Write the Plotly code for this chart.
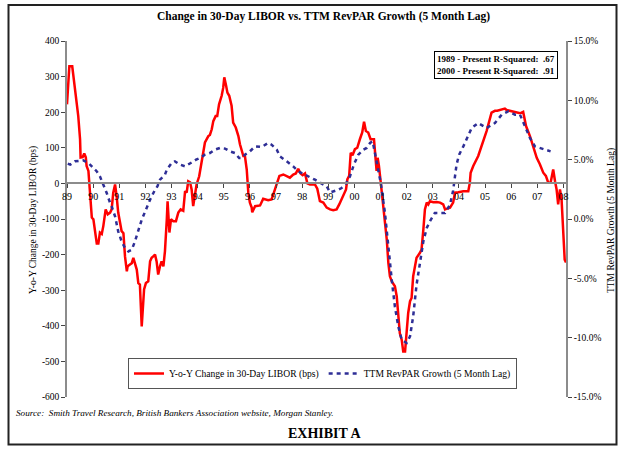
import plotly.graph_objects as go

# ---------------- data ----------------
libor_t = [1989.00, 1989.09, 1989.20, 1989.31, 1989.37, 1989.43, 1989.50, 1989.52, 1989.60, 1989.66,
           1989.72, 1989.75, 1989.82, 1989.85, 1989.88, 1989.95, 1990.01, 1990.07, 1990.14, 1990.20,
           1990.26, 1990.33, 1990.39, 1990.48, 1990.56, 1990.65, 1990.71, 1990.77, 1990.84, 1990.90,
           1990.96, 1991.03, 1991.09, 1991.16, 1991.22, 1991.29, 1991.32, 1991.41, 1991.48, 1991.54,
           1991.60, 1991.67, 1991.73, 1991.79, 1991.86, 1991.90, 1991.95, 1992.02, 1992.11, 1992.18,
           1992.24, 1992.30, 1992.37, 1992.43, 1992.49, 1992.56, 1992.62, 1992.69, 1992.75, 1992.82,
           1992.85, 1992.92, 1992.98, 1993.07, 1993.17, 1993.26, 1993.35, 1993.45, 1993.52, 1993.58,
           1993.64, 1993.71, 1993.77, 1993.83, 1993.90, 1993.96, 1994.06, 1994.16, 1994.22, 1994.28,
           1994.41, 1994.47, 1994.54, 1994.60, 1994.69, 1994.75, 1994.82, 1994.92, 1994.98, 1995.02,
           1995.09, 1995.14, 1995.21, 1995.30, 1995.36, 1995.46, 1995.56, 1995.62, 1995.75, 1995.81,
           1995.88, 1995.94, 1996.00, 1996.07, 1996.09, 1996.20, 1996.39, 1996.51, 1996.70, 1996.83,
           1996.96, 1997.13, 1997.28, 1997.41, 1997.53, 1997.66, 1997.76, 1997.85, 1997.94, 1998.02,
           1998.11, 1998.20, 1998.30, 1998.49, 1998.58, 1998.68, 1998.81, 1998.94, 1999.07, 1999.19,
           1999.32, 1999.42, 1999.55, 1999.68, 1999.73, 1999.80, 1999.86, 1999.93, 2000.02, 2000.11,
           2000.21, 2000.30, 2000.37, 2000.44, 2000.53, 2000.62, 2000.75, 2000.80, 2000.85, 2000.89,
           2000.94, 2001.01, 2001.08, 2001.11, 2001.17, 2001.24, 2001.30, 2001.36, 2001.43, 2001.55,
           2001.62, 2001.68, 2001.74, 2001.81, 2001.87, 2001.94, 2002.00, 2002.06, 2002.13, 2002.19,
           2002.25, 2002.32, 2002.38, 2002.51, 2002.57, 2002.64, 2002.70, 2002.77, 2002.83, 2002.89,
           2003.02, 2003.15, 2003.28, 2003.40, 2003.47, 2003.55, 2003.66, 2003.78, 2003.85, 2003.98,
           2004.17, 2004.36, 2004.42, 2004.45, 2004.55, 2004.74, 2004.93, 2005.06, 2005.25, 2005.38,
           2005.47, 2005.64, 2005.76, 2005.83, 2005.95, 2006.15, 2006.34, 2006.46, 2006.57, 2006.72,
           2006.85, 2006.98, 2007.10, 2007.23, 2007.33, 2007.42, 2007.51, 2007.61, 2007.68, 2007.74,
           2007.80, 2007.87, 2007.93, 2007.99, 2008.05, 2008.10]
libor_bps = [222, 329, 329, 265, 237, 190, 124, 73, 74, 84,
             73, 49, 35, 0, -36, -96, -101, -138, -169, -169,
             -138, -142, -120, -73, -87, -82, -73, -26, -3, -36,
             -82, -110, -134, -140, -205, -247, -233, -228, -224, -209,
             -224, -242, -280, -284, -402, -355, -298, -280, -275, -219,
             -209, -205, -200, -219, -256, -233, -219, -233, -190, -101,
             -50, -138, -101, -106, -106, -82, -73, -77, -22, -26,
             6, 3, -17, -64, -31, -3, 20, 63, 87, 115,
             133, 136, 152, 175, 189, 189, 222, 246, 269, 298,
             274, 255, 246, 218, 171, 157, 133, 110, 77, 77,
             39, -26, -54, -68, -81, -64, -62, -43, -47, -45,
             -17, 21, 25, 21, 16, 25, 28, 41, 28, 23,
             28, 0, -3, -3, -15, -50, -54, -68, -73, -75,
             -73, -59, -40, -17, 11, 21, 86, 79, 96, 100,
             124, 143, 173, 147, 143, 124, 124, 77, 35, 72,
             49, 2, -45, -54, -101, -158, -223, -261, -275, -289,
             -317, -374, -421, -439, -472, -472, -411, -364, -331, -322,
             -261, -233, -209, -195, -186, -130, -73, -54, -59, -50,
             -53, -52, -54, -59, -73, -71, -68, -54, -26, -25,
             -22, -22, 2, 30, 49, 77, 115, 147, 199, 204,
             204, 208, 210, 206, 204, 201, 197, 201, 161, 133,
             105, 72, 54, 30, 21, 2, 2, 39, 6, -17,
             -59, -17, -45, -130, -214, -222]

revpar_t = [1989.03, 1989.12, 1989.31, 1989.43, 1989.62, 1989.82, 1989.95, 1990.14, 1990.26, 1990.37,
            1990.52, 1990.65, 1990.71, 1990.84, 1990.96, 1991.09, 1991.22, 1991.35, 1991.48, 1991.60,
            1991.73, 1991.86, 1992.02, 1992.18, 1992.37, 1992.46, 1992.56, 1992.75, 1992.82, 1993.01,
            1993.13, 1993.33, 1993.52, 1993.71, 1993.94, 1994.09, 1994.28, 1994.47, 1994.66, 1994.86,
            1995.05, 1995.24, 1995.43, 1995.59, 1995.69, 1995.81, 1996.00, 1996.20, 1996.45, 1996.70,
            1996.83, 1997.03, 1997.15, 1997.41, 1997.66, 1997.85, 1998.04, 1998.24, 1998.49, 1998.75,
            1998.94, 1999.07, 1999.32, 1999.51, 1999.68, 1999.83, 1999.98, 2000.15, 2000.34, 2000.47,
            2000.60, 2000.70, 2000.83, 2000.91, 2001.01, 2001.17, 2001.30, 2001.43, 2001.55, 2001.68,
            2001.81, 2002.00, 2002.13, 2002.25, 2002.38, 2002.51, 2002.64, 2002.77, 2002.89, 2003.08,
            2003.28, 2003.47, 2003.66, 2003.78, 2003.91, 2004.01, 2004.17, 2004.36, 2004.49, 2004.74,
            2005.06, 2005.38, 2005.64, 2005.89, 2006.15, 2006.34, 2006.57, 2006.72, 2006.91, 2007.23,
            2007.51]
revpar_pct = [4.66, 4.58, 4.86, 4.91, 4.94, 4.72, 4.43, 4.01, 3.59, 3.03,
              2.19, 1.35, 1.06, 0.22, -1.04, -1.89, -2.44, -2.73, -2.59, -1.89,
              -0.90, -0.06, 0.78, 1.63, 2.47, 2.75, 3.31, 3.73, 4.15, 4.72,
              4.86, 4.58, 4.43, 4.72, 5.00, 5.14, 5.42, 5.56, 5.84, 5.99,
              5.93, 5.70, 5.56, 5.14, 5.14, 5.42, 5.70, 6.12, 6.07, 6.41,
              6.26, 5.84, 5.28, 4.86, 4.43, 4.01, 3.82, 3.59, 3.31, 2.98,
              2.75, 2.24, 2.41, 2.61, 2.98, 3.59, 4.58, 5.42, 5.84, 5.99,
              6.41, 6.54, 5.14, 4.15, 3.03, 0.51, -2.59, -5.12, -7.37, -9.05,
              -10.17, -10.45, -9.89, -8.21, -5.54, -3.71, -1.89, -0.76, -0.20, 0.51,
              0.51, 0.51, 1.21, 2.40, 4.58, 5.42, 6.12, 6.96, 7.67, 8.09,
              7.67, 8.09, 8.79, 9.07, 8.79, 8.79, 7.67, 6.83, 6.12, 5.93,
              5.70]

year_ticks = list(range(1989, 2009))
year_labels = ["89", "90", "91", "92", "93", "94", "95", "96", "97", "98",
               "99", "00", "01", "02", "03", "04", "05", "06", "07", "08"]
left_ticks = [400, 300, 200, 100, 0, -100, -200, -300, -400, -500, -600]
left_labels = ["400", "300", "200", "100", "0", "-100", "-200", "-300", "-400", "-500", "-600"]
right_ticks = [15, 10, 5, 0, -5, -10, -15]
right_labels = ["15.0%", "10.0%", "5.0%", "0.0%", "-5.0%", "-10.0%", "-15.0%"]

series_names = ["Y-o-Y Change in 30-Day LIBOR (bps)", "TTM RevPAR Growth (5 Month Lag)"]

# ---------------- layout helpers (window pixels) ----------------
W, H = 624, 451
PLOT_L, PLOT_R, PLOT_T, PLOT_B = 67, 566, 41, 397
ML, MT = PLOT_L, PLOT_T
MR, MB = W - PLOT_R, H - PLOT_B
PW, PH = PLOT_R - PLOT_L, PLOT_B - PLOT_T


def px(x):
    return (x - PLOT_L) / PW


def py(y):
    return (PLOT_B - y) / PH


SERIF = "Liberation Serif"
AXIS_GREY = "#8c8c8c"

fig = go.Figure()
fig.add_trace(go.Scatter(x=libor_t, y=libor_bps, mode="lines", name=series_names[0],
                         line=dict(color="#ff0000", width=2.5), yaxis="y"))
fig.add_trace(go.Scatter(x=revpar_t, y=revpar_pct, mode="lines", name=series_names[1],
                         line=dict(color="#2e2e96", width=2.5, dash="4px,4px"), yaxis="y2"))

fig.update_layout(
    width=W, height=H, autosize=False,
    margin=dict(l=ML, r=MR, t=MT, b=MB, pad=0),
    paper_bgcolor="white", plot_bgcolor="white",
    font=dict(family=SERIF, size=10, color="black"),
    showlegend=True,
    legend=dict(orientation="h", x=px(128), y=py(358), xanchor="left", yanchor="top",
                bordercolor="#555555", borderwidth=1, bgcolor="white",
                font=dict(family=SERIF, size=9.6), itemwidth=30, tracegroupgap=0),
    xaxis=dict(range=[1989, 2008.1], tickvals=year_ticks, ticktext=year_labels,
               showgrid=False, zeroline=False, showline=True, linecolor=AXIS_GREY, linewidth=1.5,
               ticks="outside", ticklen=4, tickcolor="#444444", tickwidth=1,
               tickfont=dict(family=SERIF, size=10), anchor="free", position=0.6,
               fixedrange=True),
    yaxis=dict(range=[-600, 400], tickvals=left_ticks, ticktext=left_labels,
               showgrid=False, zeroline=False, showline=True, linecolor=AXIS_GREY, linewidth=1.5,
               ticks="outside", ticklen=4, tickcolor="#444444", tickwidth=1,
               tickfont=dict(family=SERIF, size=9.5), fixedrange=True),
    yaxis2=dict(range=[-15, 15], tickvals=right_ticks, ticktext=right_labels,
                overlaying="y", side="right", anchor="x",
                showgrid=False, zeroline=False, showline=True, linecolor=AXIS_GREY, linewidth=1.5,
                ticks="outside", ticklen=4, tickcolor="#444444", tickwidth=1,
                tickfont=dict(family=SERIF, size=9.5), fixedrange=True),
)

annotations = [
    dict(text="<b>Change in 30-Day LIBOR vs. TTM RevPAR Growth (5 Month Lag)</b>",
         x=px(323), y=py(16), font=dict(family=SERIF, size=11.5)),
    dict(text="Y-o-Y Change in 30-Day LIBOR (bps)", x=px(33), y=py(220), textangle=-90,
         font=dict(family=SERIF, size=9.5)),
    dict(text="TTM RevPAR Growth (5 Month Lag)", x=px(611), y=py(221), textangle=-90,
         font=dict(family=SERIF, size=9.5)),
    dict(text="<b>1989 - Present R-Squared:  .67<br>2000 - Present R-Squared:  .91</b>",
         x=px(434), y=py(51), xanchor="left", yanchor="top", align="left",
         bordercolor="black", borderwidth=1, borderpad=2, bgcolor="white",
         font=dict(family=SERIF, size=9)),
    dict(text="<i>Source:  Smith Travel Research, British Bankers Association website, Morgan Stanley.</i>",
         x=px(14), y=py(413), xanchor="left", font=dict(family=SERIF, size=9.2)),
    dict(text="<b>EXHIBIT A</b>", x=px(324), y=py(433), font=dict(family=SERIF, size=14)),
]
for a in annotations:
    a.setdefault("xanchor", "center")
    a.setdefault("yanchor", "middle")
    fig.add_annotation(xref="paper", yref="paper", showarrow=False, **a)

# outer frame of the exhibit
fig.add_shape(type="rect", xref="paper", yref="paper",
              x0=px(8.5), x1=px(616.5), y0=py(444.5), y1=py(5),
              line=dict(color="#222222", width=2), fillcolor="rgba(0,0,0,0)", layer="above")

# remove the browser's default 8px body margin so the figure sits at the window origin
fig.write_html("out.html", config={"displayModeBar": False},
               post_script="document.body.style.margin='0px';")
